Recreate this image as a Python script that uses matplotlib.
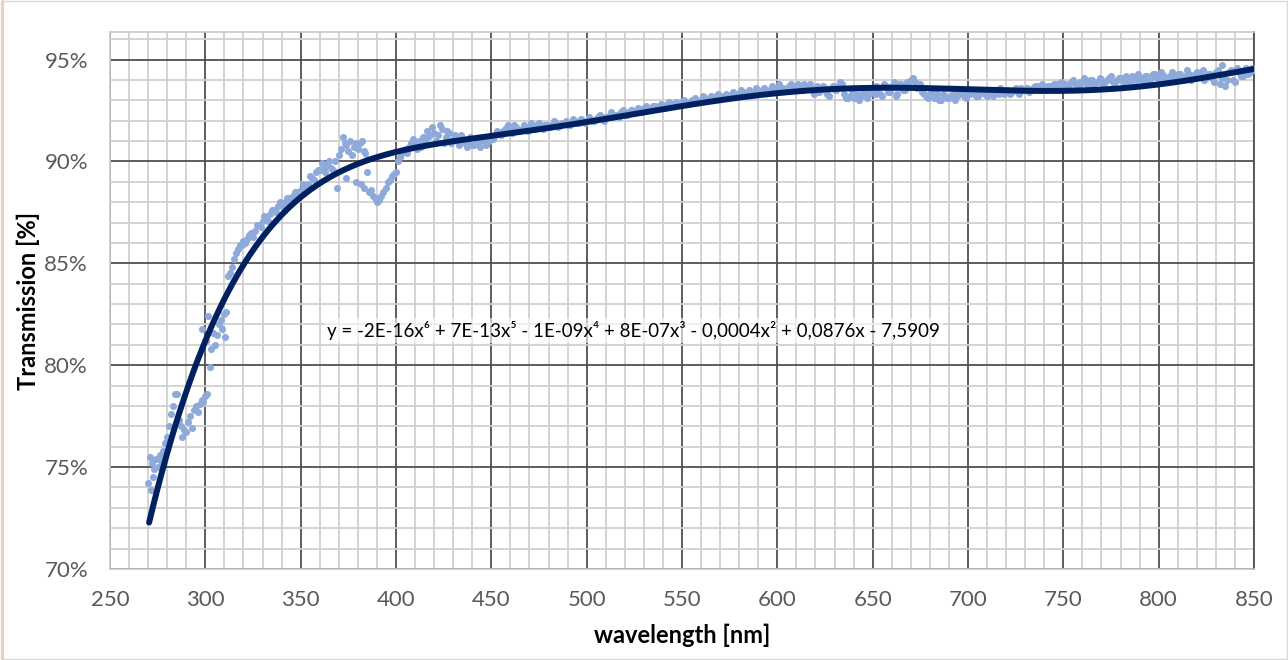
import numpy as np
import matplotlib
matplotlib.use("Agg")
import matplotlib.pyplot as plt
from matplotlib.ticker import MultipleLocator, FuncFormatter
from matplotlib.lines import Line2D
from matplotlib.patches import Rectangle

wl_uv = [270, 271, 271.5, 272, 272.5, 273, 274, 275, 276, 277, 278, 279, 280, 281, 282,
         283, 284, 285, 286, 287, 288, 289, 290, 291, 292, 293, 294, 295, 296, 297,
         298, 299, 300, 301]
tr_uv = [74.2, 75.5, 73.9, 75.2, 74.5, 74.9, 75.4, 75.0, 75.6, 75.3, 75.8, 76.2, 76.5, 77.0, 77.6,
         78.0, 78.6, 78.6, 77.3, 77.0, 76.5, 76.8, 76.7, 77.2, 77.5, 76.9, 77.8, 78.0, 77.7, 78.1,
         78.3, 78.2, 78.5, 78.6]

wl_rise = [298, 300.5, 301.5, 302.4, 303, 304, 305, 306, 307, 308, 309, 310, 310.5, 311,
           312, 313, 314, 315, 316, 317, 318, 319, 320, 322, 324, 326, 328, 330, 332, 334,
           336, 338, 340, 342, 344, 346, 348, 350, 352, 354, 356, 358, 360, 362, 364, 366,
           368, 369, 370, 371, 372, 374, 375, 376, 377, 378, 380, 381, 383, 384,
           321, 323, 325, 327, 329, 331, 333, 335, 337, 339, 341, 343, 345, 347, 349, 351,
           353, 355, 357, 359, 361, 363, 365, 367, 373, 379, 382, 385]
tr_rise = [81.8, 81.2, 82.4, 79.9, 80.8, 81.6, 81.0, 81.5, 82.0, 82.2, 81.8, 82.5, 81.4, 82.6,
           84.4, 84.5, 84.8, 85.2, 85.5, 85.7, 85.9, 85.9, 86.1, 86.2, 86.5, 86.6, 86.9, 87.1, 87.2, 87.4,
           87.6, 87.8, 87.9, 88.0, 88.2, 88.3, 88.5, 88.6, 88.8, 88.9, 89.2, 89.5, 89.6, 89.7, 89.8, 89.7,
           90.0, 88.7, 90.3, 90.6, 91.2, 90.8, 90.5, 91.0, 90.3, 90.7, 90.6, 90.9, 90.5, 90.4,
           86.0, 86.4, 86.3, 86.9, 86.8, 87.3, 87.1, 87.6, 87.5, 88.0, 87.7, 88.2, 88.1, 88.5, 88.3, 88.9,
           88.6, 89.3, 89.1, 89.6, 89.9, 89.5, 90.0, 89.6, 90.9, 90.9, 91.0, 90.1]

wl_dip = [374, 379, 381.5, 383, 384.6, 386, 387, 388, 389, 390, 391, 392, 393, 395, 396,
          397, 398, 399, 400, 401, 402, 403, 404, 405, 406, 407, 408, 410, 411, 412, 414,
          415, 416, 418, 419, 420, 421, 422, 424, 425, 426, 428, 430, 432, 434, 436, 438,
          440, 442, 444, 446, 448, 450,
          409, 413, 417, 423, 427, 429, 431, 433, 435, 437, 439, 441, 443, 445, 447, 449]
tr_dip = [89.2, 89.0, 88.9, 88.7, 89.5, 88.5, 88.6, 88.3, 88.2, 88.0, 88.1, 88.3, 88.5, 88.7, 89.0,
          89.1, 89.3, 89.4, 89.5, 90.0, 90.2, 90.4, 90.5, 90.6, 90.4, 90.7, 90.9, 90.8, 90.6, 91.0, 91.2,
          90.9, 91.5, 91.3, 91.7, 91.4, 91.0, 91.3, 91.6, 90.9, 91.2, 91.4, 91.1, 91.0, 91.3, 90.9, 91.0,
          90.8, 91.1, 90.7, 91.0, 91.1, 91.2,
          91.1, 90.7, 91.2, 91.8, 91.5, 90.9, 91.3, 90.8, 91.1, 90.7, 91.2, 90.8, 90.9, 91.1, 90.8, 91.0]

wl_vis = list(range(452, 852, 2)) + [833]
tr_vis = [91.3, 91.4, 91.5, 91.7, 91.6, 91.8, 91.5, 91.6, 91.7, 91.6,   # 452-470
          91.7, 91.8, 91.7, 91.8, 91.7, 91.8, 91.9, 91.8, 91.9, 91.8,   # 472-490
          91.9, 92.0, 91.9, 92.0, 92.0, 92.1, 92.0, 92.2, 92.1, 92.2,   # 492-510
          92.3, 92.2, 92.3, 92.4, 92.3, 92.4, 92.5, 92.4, 92.5, 92.6,   # 512-530
          92.5, 92.6, 92.7, 92.6, 92.7, 92.8, 92.7, 92.8, 92.8, 92.9,   # 532-550
          92.8, 92.9, 93.0, 92.9, 93.0, 93.1, 93.0, 93.1, 93.2, 93.1,   # 552-570
          93.2, 93.2, 93.3, 93.2, 93.3, 93.4, 93.3, 93.4, 93.4, 93.5,   # 572-590
          93.4, 93.5, 93.5, 93.6, 93.5, 93.6, 93.5, 93.7, 93.6, 93.7,   # 592-610
          93.6, 93.8, 93.7, 93.5, 93.6, 93.4, 93.7, 93.3, 93.6, 93.5,   # 612-630
          93.7, 93.8, 93.1, 93.2, 93.1, 93.3, 93.2, 93.4, 93.3, 93.6,   # 632-650
          93.7, 93.3, 93.8, 93.4, 93.7, 93.2, 93.8, 93.5, 93.9, 94.0,   # 652-670
          93.9, 93.7, 93.4, 93.2, 93.3, 93.1, 93.3, 93.0, 93.2, 93.1,   # 672-690
          93.3, 93.2, 93.4, 93.2, 93.3, 93.4, 93.2, 93.3, 93.4, 93.2,   # 692-710
          93.3, 93.4, 93.3, 93.5, 93.4, 93.3, 93.5, 93.4, 93.6, 93.5,   # 712-730
          93.4, 93.6, 93.7, 93.5, 93.6, 93.7, 93.6, 93.8, 93.7, 93.8,   # 732-750
          93.7, 93.9, 93.8, 93.7, 93.9, 93.8, 94.0, 93.8, 93.9, 94.0,   # 752-770
          93.9, 94.1, 93.9, 94.0, 94.1, 93.9, 94.0, 94.2, 94.0, 94.1,   # 772-790
          94.0, 94.2, 94.1, 94.3, 94.1, 94.3, 94.0, 94.2, 94.1, 94.3,   # 792-810
          94.0, 94.2, 94.3, 94.1, 94.4, 94.2, 94.0, 94.3, 94.1, 94.4,   # 812-830
          93.8, 94.2, 94.0, 94.5, 93.9, 94.4, 94.2, 94.6, 94.4, 94.5,   # 832-850
          94.75]

wl_vis_odd = list(range(451, 851, 2))
tr_vis_odd = [91.1, 91.5, 91.3, 91.6, 91.8, 91.4, 91.7, 91.5, 91.8, 91.5,   # 451-469
              91.9, 91.6, 91.9, 91.6, 91.8, 91.7, 92.0, 91.7, 91.9, 92.0,   # 471-489
              91.8, 92.1, 91.9, 92.1, 91.9, 92.2, 92.0, 92.1, 92.3, 92.0,   # 491-509
              92.2, 92.4, 92.3, 92.2, 92.5, 92.3, 92.5, 92.4, 92.6, 92.4,   # 511-529
              92.7, 92.5, 92.7, 92.6, 92.8, 92.6, 92.9, 92.7, 92.9, 92.8,   # 531-549
              93.0, 92.8, 93.0, 93.1, 92.9, 93.2, 93.0, 93.2, 93.1, 93.3,   # 551-569
              93.1, 93.3, 93.2, 93.4, 93.3, 93.5, 93.3, 93.5, 93.4, 93.6,   # 571-589
              93.4, 93.6, 93.4, 93.7, 93.5, 93.8, 93.6, 93.5, 93.8, 93.6,   # 591-609
              93.8, 93.5, 93.6, 93.8, 93.3, 93.7, 93.5, 93.6, 93.2, 93.7,   # 611-629
              93.5, 93.9, 93.3, 93.1, 93.5, 93.2, 93.0, 93.4, 93.1, 93.5,   # 631-649
              93.3, 93.6, 93.2, 93.7, 93.4, 93.9, 93.3, 93.8, 93.5, 93.9,   # 651-669
              94.1, 93.6, 93.8, 93.3, 93.1, 93.4, 93.2, 93.0, 93.3, 93.1,   # 671-689
              93.2, 93.0, 93.3, 93.4, 93.1, 93.3, 93.5, 93.2, 93.4, 93.3,   # 691-709
              93.5, 93.2, 93.4, 93.6, 93.3, 93.5, 93.4, 93.6, 93.3, 93.5,   # 711-729
              93.6, 93.5, 93.7, 93.6, 93.8, 93.5, 93.7, 93.8, 93.6, 93.9,   # 731-749
              93.8, 93.6, 94.0, 93.8, 93.9, 94.1, 93.7, 94.0, 93.9, 94.1,   # 751-769
              93.8, 94.0, 94.2, 93.9, 94.1, 94.0, 94.2, 93.9, 94.1, 94.3,   # 771-789
              94.0, 94.2, 93.9, 94.3, 94.1, 94.4, 94.2, 94.0, 94.4, 94.2,   # 791-809
              94.3, 94.1, 94.5, 94.0, 94.3, 94.2, 94.5, 94.1, 94.3, 93.9,   # 811-829
              94.5, 94.1, 93.7, 94.4, 94.0, 94.6, 94.2, 94.5, 94.3, 94.6]   # 831-849

# trendline as drawn in the chart (read at these wavelengths)
trend_wl = [270.5, 278.5, 287, 295.5, 305, 313, 319, 334, 350, 365, 377, 385, 400, 423,
            449, 475, 500, 550, 580, 600, 625, 650, 690, 717, 752, 769, 800, 822, 850]
trend_tr = [72.6, 75.0, 77.6, 80.0, 82.3, 83.7, 85.0, 86.9, 88.3, 89.15, 89.8, 90.0, 90.45, 90.87,
            91.2, 91.55, 91.93, 92.75, 93.15, 93.4, 93.52, 93.6, 93.53, 93.45, 93.48, 93.56, 93.8, 94.05, 94.54]

wavelength = np.array(wl_uv + wl_rise + wl_dip + wl_vis + wl_vis_odd, dtype=float)
transmission = np.array(tr_uv + tr_rise + tr_dip + tr_vis + tr_vis_odd, dtype=float)

equation = ("y = -2E-16x\u2076 + 7E-13x\u2075 - 1E-09x\u2074 + 8E-07x\u00b3 "
            "- 0,0004x\u00b2 + 0,0876x - 7,5909")

plt.rcParams['font.family'] = ['Lato', 'DejaVu Sans']

fig = plt.figure(figsize=(12.88, 6.6), dpi=100)
ax = fig.add_axes([110 / 1288, 1 - 569 / 660, 1144 / 1288, 537 / 660])

# 6th order polynomial through the trendline readings
trend = np.polynomial.Polynomial.fit(trend_wl, trend_tr, 6)
xs = np.linspace(trend_wl[0], trend_wl[-1], 500)

ax.scatter(wavelength, transmission, s=26, color='#8eaadb', linewidths=0, zorder=3)
ax.plot(xs, trend(xs), color='#002060', lw=4.3, solid_capstyle='round', zorder=4)

ax.set_xlim(250, 850)
ax.set_ylim(70, 96.35)
ax.xaxis.set_major_locator(MultipleLocator(50))
ax.xaxis.set_minor_locator(MultipleLocator(10))
ax.yaxis.set_major_locator(MultipleLocator(5))
ax.yaxis.set_minor_locator(MultipleLocator(1))
ax.yaxis.set_major_formatter(FuncFormatter(lambda v, p: f'{v:.0f}%'))

ax.grid(which='minor', color='#d0d0d0', lw=1.3)
ax.grid(which='major', color='#505050', lw=1.3)
ax.set_axisbelow(True)
ax.tick_params(which='both', length=0, labelsize=16, labelcolor='#595959')
ax.tick_params(axis='y', pad=15.8)
ax.tick_params(axis='x', pad=15)
for side in ['left', 'top', 'bottom']:
    ax.spines[side].set_color('#c8c8c8')
    ax.spines[side].set_linewidth(1.2)
ax.spines['right'].set_color('#505050')
ax.spines['right'].set_linewidth(1.3)

ax.set_xlabel('wavelength [nm]', fontsize=17, fontweight='bold', labelpad=10)
ax.set_ylabel('Transmission [%]', fontsize=17, fontweight='bold', labelpad=3)

ax.text(364, 81.7, equation, fontsize=13.5, va='center', ha='left', zorder=5,
        bbox=dict(facecolor='white', edgecolor='none', alpha=0.6, pad=2))

# chart area border and sheet edge
fig.patches.append(Rectangle((0.001, 0.001), 0.998, 0.997, transform=fig.transFigure,
                             fill=False, edgecolor='#d9d9d9', lw=1))
fig.lines.append(Line2D([3 / 1288, 3 / 1288], [0, 1], transform=fig.transFigure,
                        color='#e6d3b3', lw=1.5))

fig.savefig('out.png', dpi=100)
